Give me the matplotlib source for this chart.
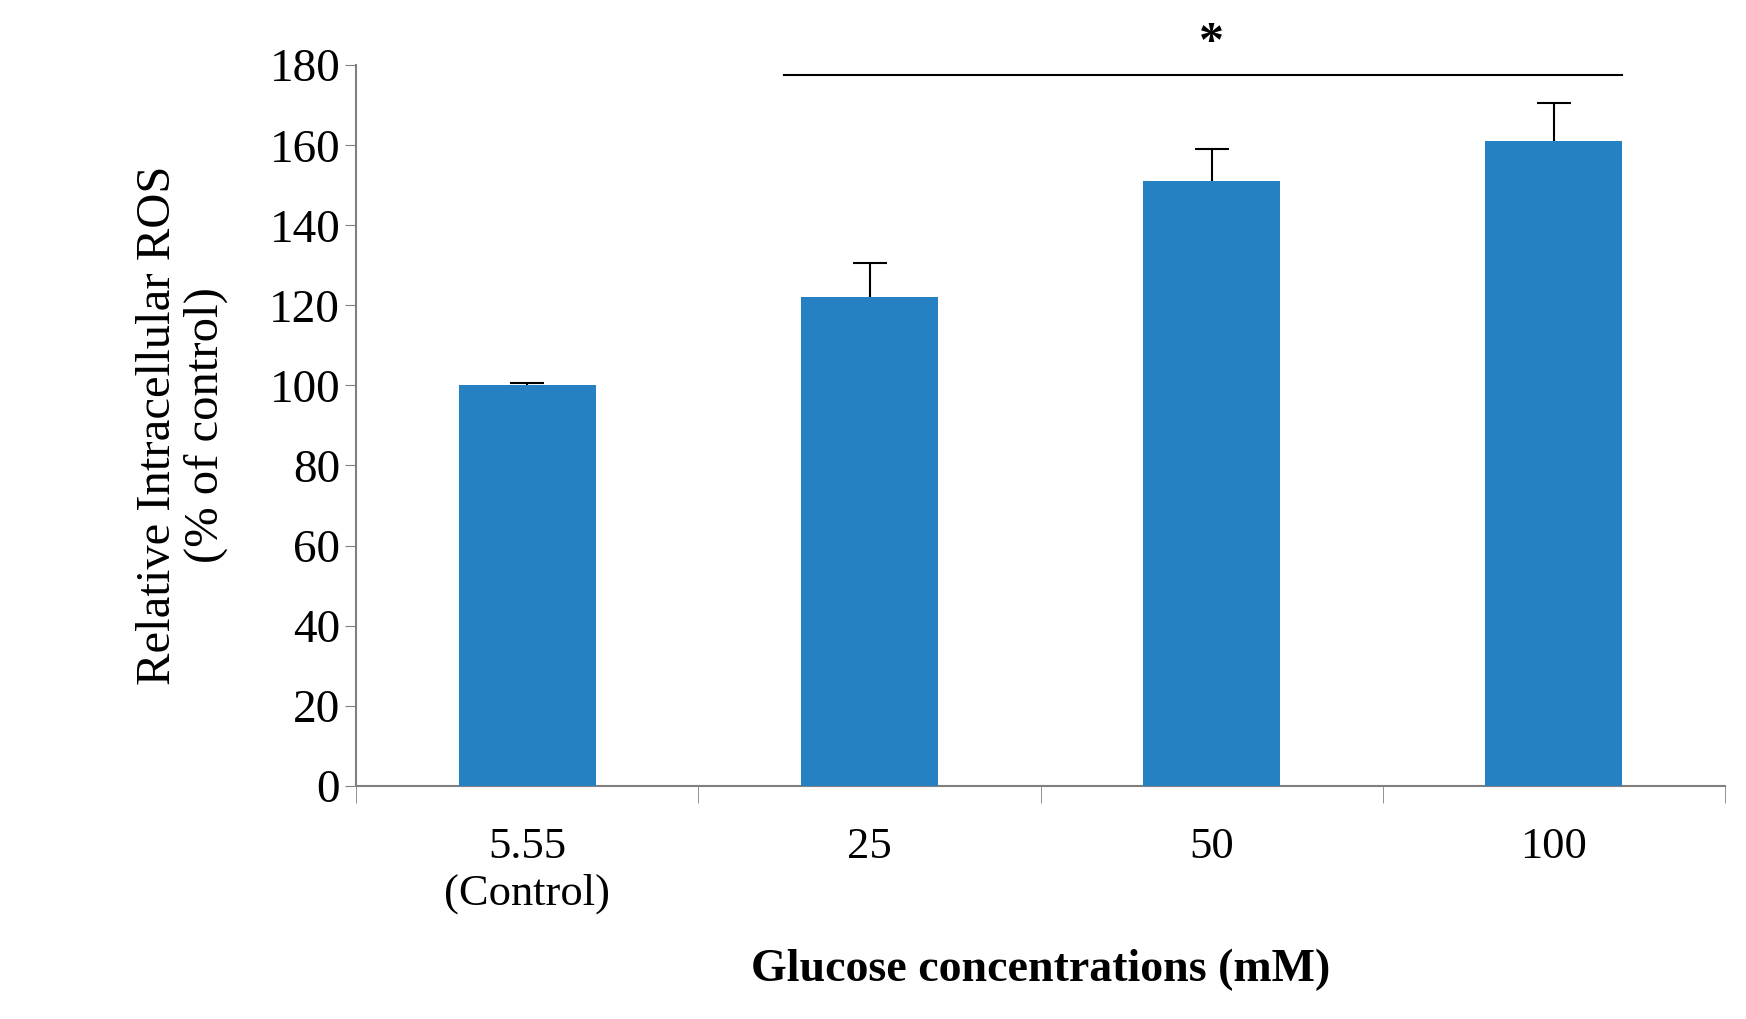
import matplotlib.pyplot as plt

categories = ['5.55\n(Control)', '25', '50', '100']
values = [100, 122, 151, 161]
errors = [0.5, 8.5, 8, 9.5]
sig_level = 177.5

plt.rcParams['font.family'] = ['Liberation Serif', 'DejaVu Serif']

fig = plt.figure(figsize=(17.46, 10.19), dpi=100)
ax = fig.add_axes([0.204, 0.229, 0.784, 0.707])

x = list(range(len(categories)))
ax.bar(x, values, width=0.4, color='#2681c2', zorder=3)
# only upper whiskers; the lower half is hidden behind the bar
ax.errorbar(x, values, yerr=errors, fmt='none',
            ecolor='black', elinewidth=1.5, capsize=12, capthick=1.5, zorder=2)

# significance bar over the treated groups
ax.plot([0.75, 3.2], [sig_level, sig_level], color='black', lw=1.5, clip_on=False)
ax.text(2.0, sig_level + 2, '*', ha='center', va='bottom', fontsize=36, fontweight='bold')

ax.set_xlim(-0.5, 3.5)
ax.set_ylim(0, 180)
ax.set_yticks(range(0, 181, 20))
ax.set_xticks(x)
ax.set_xticklabels(categories, fontsize=32)
ax.set_xticks([i - 0.5 for i in range(5)], minor=True)
ax.tick_params(axis='x', which='major', length=0, pad=30)
ax.tick_params(axis='x', which='minor', length=12, direction='out', color='#808080')
ax.tick_params(axis='y', labelsize=34, length=8, color='#808080')
for s in ['top', 'right']:
    ax.spines[s].set_visible(False)
for s in ['left', 'bottom']:
    ax.spines[s].set_color('#808080')
    ax.spines[s].set_linewidth(1.5)

ax.set_ylabel('Relative Intracellular ROS\n(% of control)', fontsize=35, labelpad=30,
              linespacing=1.1)
ax.set_xlabel('Glucose concentrations (mM)', fontsize=33, fontweight='bold', labelpad=25)

fig.savefig('out.png', dpi=100)
